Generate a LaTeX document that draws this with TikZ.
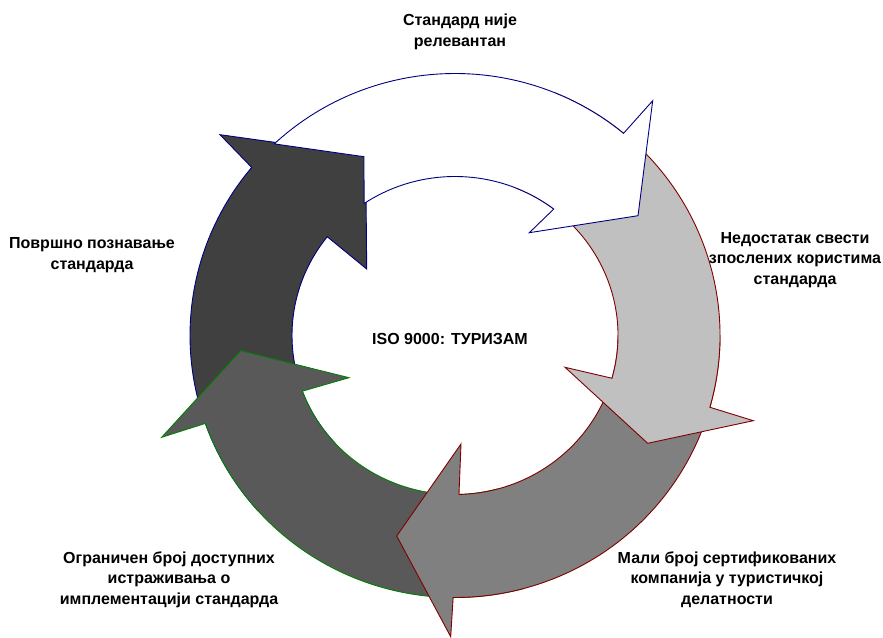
\documentclass[tikz,border=0pt]{standalone}
\usepackage{fontspec}
\setmainfont{Liberation Sans}
\definecolor{cNavy}{HTML}{000080}
\definecolor{cRed}{HTML}{800000}
\definecolor{cGreen}{HTML}{008000}
\definecolor{cG1}{HTML}{404040}
\definecolor{cG2}{HTML}{595959}
\definecolor{cG3}{HTML}{808080}
\definecolor{cG4}{HTML}{C0C0C0}
\tikzset{
  arrowshape/.style={line width=0.9pt, line join=miter},
  lbl/.style={font=\fontsize{16}{20.5}\selectfont\bfseries, align=center, inner sep=0pt, text=black},
}
\begin{document}
\begin{tikzpicture}[x=1pt,y=1pt]
\useasboundingbox (0,0) rectangle (883,637);
\fill[white] (0,0) rectangle (883,637);
\begin{scope}[shift={(455,301.5)}]
% arrow 5: very dark, left
\filldraw[arrowshape, fill=cG1, draw=cNavy]
  (222:265pt and 262pt) arc[start angle=222, end angle=140.1, x radius=265pt, y radius=262pt]
  -- (-235,200.8) -- (-89.3,180.5) -- (-88.3,66.5)
  -- (141.6:163pt and 159pt) arc[start angle=141.6, end angle=222, x radius=163pt, y radius=159pt] -- cycle;
% arrow 4: dark gray, bottom left
\filldraw[arrowshape, fill=cG2, draw=cGreen]
  (285:265pt and 262pt) arc[start angle=285, end angle=199.6, x radius=265pt, y radius=262pt]
  -- (-293.3,-101.8) -- (-214.3,-15.2) -- (-106,-42.2)
  -- (200.5:163pt and 159pt) arc[start angle=200.5, end angle=285, x radius=163pt, y radius=159pt] -- cycle;
% arrow 3: medium gray, bottom
\filldraw[arrowshape, fill=cG3, draw=cRed]
  (0:265pt and 262pt) arc[start angle=0, end angle=-90.4, x radius=265pt, y radius=262pt]
  -- (-4.3,-301.2) -- (-58.3,-200.5) -- (6,-108.5)
  -- (-88.6:163pt and 159pt) arc[start angle=-88.6, end angle=0, x radius=163pt, y radius=159pt] -- cycle;
% arrow 2: light gray, right
\filldraw[arrowshape, fill=cG4, draw=cRed]
  (68:265pt and 262pt) arc[start angle=68, end angle=-15.9, x radius=265pt, y radius=262pt]
  -- (298.3,-85.2) -- (192.7,-107.8) -- (110,-31.8)
  -- (-15.6:163pt and 159pt) arc[start angle=-15.6, end angle=68, x radius=163pt, y radius=159pt] -- cycle;
% arrow 1: white, top
\filldraw[arrowshape, fill=white, draw=cNavy]
  (133:265pt and 262pt) arc[start angle=133, end angle=50.5, x radius=265pt, y radius=262pt]
  -- (197.7,234.8) -- (183,119.8) -- (74.3,102.8)
  -- (52.7:163pt and 159pt) arc[start angle=52.7, end angle=123.9, x radius=163pt, y radius=159pt]
  -- (-91,178.8) -- cycle;
\end{scope}
\node[lbl] (top) at (460,605) {Стандард није\\релевантан};
\node[lbl] (right) at (795,377) {Недостатак свести\\зпослених користима\\стандарда};
\node[lbl] (bright) at (727,57.5) {Мали број сертификованих\\компанија у туристичкој\\делатности};
\node[lbl] (bleft) at (169,57.5) {Ограничен број доступних\\истраживања о\\имплементацији стандарда};
\node[lbl] (left) at (92,382) {Површно познавање\\стандарда};
\node[lbl] (center) at (450,298) {ISO 9000: ТУРИЗАМ};
\end{tikzpicture}
\end{document}
